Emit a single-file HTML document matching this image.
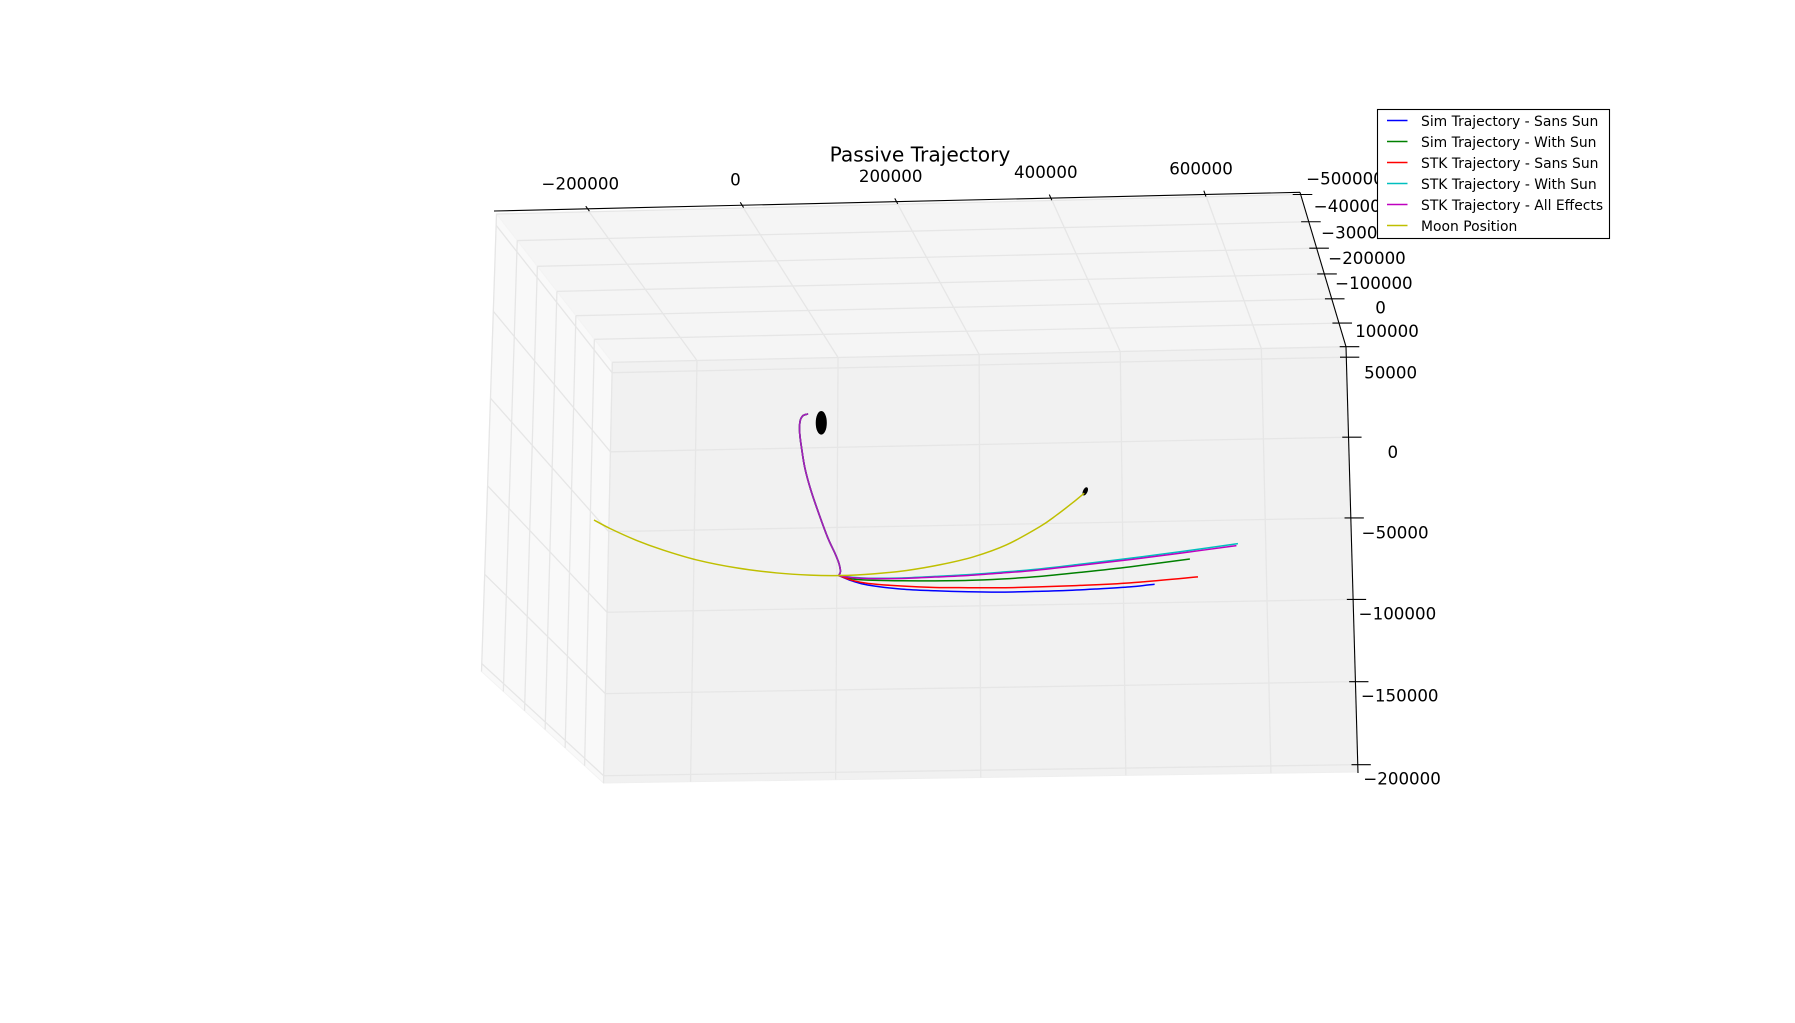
<!DOCTYPE html>
<html lang="en">
<head>
<meta charset="utf-8">
<title>Passive Trajectory</title>
<style>
html,body{margin:0;padding:0;background:#fff;width:1795px;height:1023px;overflow:hidden}
svg{display:block}
text{font-family:"DejaVu Sans","Liberation Sans",sans-serif;fill:#000}
.tick-label{font-size:16.67px;text-anchor:middle;dominant-baseline:central}
.legend-text{font-size:13.9px;dominant-baseline:central;fill:#000}
</style>
</head>
<body>
<svg id="chart" xmlns="http://www.w3.org/2000/svg" width="1795" height="1023" viewBox="0 0 1795 1023">
  <rect x="0" y="0" width="1795" height="1023" fill="#ffffff"/>
  <g id="panes"></g>
  <g id="grid"></g>
  <g id="axes"></g>
  <g id="labels"></g>
  <g id="marks"></g>
  <text x="920" y="154.5" font-size="20.2" text-anchor="middle" dominant-baseline="central">Passive Trajectory</text>
  <g>
    <rect x="1377.5" y="109.5" width="232" height="129" fill="#ffffff" stroke="#000000" stroke-width="1.1"/>
    <g>
      <line x1="1387" x2="1407.5" y1="120.5" y2="120.5" stroke="#0000ff" stroke-width="1.4"/>
      <text class="legend-text" x="1421" y="121.8">Sim Trajectory - Sans Sun</text>
    </g>
    <g>
      <line x1="1387" x2="1407.5" y1="141.5" y2="141.5" stroke="#008000" stroke-width="1.4"/>
      <text class="legend-text" x="1421" y="142.8">Sim Trajectory - With Sun</text>
    </g>
    <g>
      <line x1="1387" x2="1407.5" y1="162.5" y2="162.5" stroke="#ff0000" stroke-width="1.4"/>
      <text class="legend-text" x="1421" y="163.8">STK Trajectory - Sans Sun</text>
    </g>
    <g>
      <line x1="1387" x2="1407.5" y1="183.5" y2="183.5" stroke="#00bfbf" stroke-width="1.4"/>
      <text class="legend-text" x="1421" y="184.8">STK Trajectory - With Sun</text>
    </g>
    <g>
      <line x1="1387" x2="1407.5" y1="204.5" y2="204.5" stroke="#bf00bf" stroke-width="1.4"/>
      <text class="legend-text" x="1421" y="205.8">STK Trajectory - All Effects</text>
    </g>
    <g>
      <line x1="1387" x2="1407.5" y1="225.5" y2="225.5" stroke="#bfbf00" stroke-width="1.4"/>
      <text class="legend-text" x="1421" y="226.8">Moon Position</text>
    </g>
  </g>
</svg>
<script>
// Tick values
const xTicks = [-200000, 0, 200000, 400000, 600000];
const yTicks = [-500000, -400000, -300000, -200000, -100000, 0, 100000];
const zTicks = [50000, 0, -50000, -100000, -150000, -200000];

// Axis limits
const xLim = [-320000, 720000];
const yLim = [-500000, 100000];
const zLim = [-204400, 56600];

// Depth of the trajectories along the view axis (not readable from the picture)
const planeY = 0;

// Shared outbound leg (all five trajectories overlap here)
const outboundX = [-21400, -27900, -31600, -31800, -29000, -24100, -15800, -4600, 8400, 18200, 23800, 25900, 23600];
const outboundZ = [7200, 6100, 2600, -4600, -13900, -26300, -39600, -54000, -69300, -78600, -84800, -89900, -92250];

// Diverging branches
const simSansX = [41600, 64400, 110300, 156100, 201900, 247800, 293500, 332100, 378000, 423700, 457800];
const simSansZ = [-95600, -98400, -101150, -102500, -103450, -104000, -103950, -103800, -103100, -102200, -100900];
const simWithX = [41600, 64400, 110300, 156100, 201900, 247800, 293500, 355400, 424200, 506800];
const simWithZ = [-94400, -95350, -96100, -96500, -96600, -96100, -95100, -92900, -90100, -86000];
const stkSansX = [41600, 64400, 110300, 156100, 201900, 247800, 293500, 355400, 424200, 517500];
const stkSansZ = [-95200, -97400, -99300, -100500, -101000, -101400, -101300, -100800, -99800, -96900];
const stkWithX = [41600, 64400, 110300, 156100, 201900, 247800, 293500, 355400, 424200, 493200, 573300];
const stkWithZ = [-93400, -94200, -94400, -93800, -93100, -91950, -90600, -88000, -84900, -81500, -77240];
const stkAllX = [41600, 64400, 110300, 156100, 201900, 247800, 293500, 355400, 424200, 493200, 571200];
const stkAllZ = [-93600, -94400, -94700, -94200, -93600, -92500, -91200, -88700, -85700, -82400, -78400];

// Moon path
const moonX = [-314800, -292400, -255400, -218500, -172100, -116900, -61700, -15900, 25400, 71200, 117100, 162900, 208600, 254600, 300400, 323400, 346200, 362300];
const moonZ = [-55600, -61000, -68600, -74800, -81200, -86500, -90000, -91700, -92250, -91600, -89900, -86800, -82400, -75400, -64800, -58000, -50500, -44800];

// Bodies: Earth, Moon
const bodyX = [-2000, 363700];
const bodyY = [0, 0];
const bodyZ = [1600, -43700];
const bodyRadius = [7000, 2400];
const bodyTilt = [0, 25];

// Screen corners of the 3D box (camera calibration), [x, y]
const boxBackTopLeft = [612.3, 362.3];
const boxBackTopRight = [1346, 346.7];
const boxBackBottomLeft = [603.5, 783];
const boxBackBottomRight = [1358, 772];
const boxFrontTopLeft = [496.5, 214];
const boxFrontTopRight = [1299, 194.5];
const boxFrontBottomLeft = [481.5, 671.5];
const boxFrontBottomRight = [1306.5, 659.5];

const SVGNS = 'http://www.w3.org/2000/svg';

function lerp(a, b, t) { return a + (b - a) * t; }

function proj(x, y, z) {
  const u = (x - xLim[0]) / (xLim[1] - xLim[0]);
  const s = (yLim[1] - y) / (yLim[1] - yLim[0]);
  const v = 0.917 * s / (1 - 0.083 * s);
  const t = (zLim[1] - z) / (zLim[1] - zLim[0]);
  const w = 0.976 * t / (1 - 0.024 * t);
  const out = [0, 1].map(function (i) {
    const backTop = lerp(boxBackTopLeft[i], boxBackTopRight[i], u);
    const backBottom = lerp(boxBackBottomLeft[i], boxBackBottomRight[i], u);
    const frontTop = lerp(boxFrontTopLeft[i], boxFrontTopRight[i], u);
    const frontBottom = lerp(boxFrontBottomLeft[i], boxFrontBottomRight[i], u);
    return lerp(lerp(backTop, backBottom, w), lerp(frontTop, frontBottom, w), v);
  });
  return out;
}

function make(parentId, tag, attrs) {
  const el = document.createElementNS(SVGNS, tag);
  Object.keys(attrs).forEach(function (k) { el.setAttribute(k, attrs[k]); });
  document.getElementById(parentId).appendChild(el);
  return el;
}

function fmt(p) { return p[0].toFixed(2) + ',' + p[1].toFixed(2); }

function smoothPath(pts) {
  let d = 'M' + fmt(pts[0]);
  for (let i = 0; i < pts.length - 1; i++) {
    const p0 = pts[Math.max(i - 1, 0)];
    const p1 = pts[i];
    const p2 = pts[i + 1];
    const p3 = pts[Math.min(i + 2, pts.length - 1)];
    const c1 = [p1[0] + (p2[0] - p0[0]) / 6, p1[1] + (p2[1] - p0[1]) / 6];
    const c2 = [p2[0] - (p3[0] - p1[0]) / 6, p2[1] - (p3[1] - p1[1]) / 6];
    d += 'C' + fmt(c1) + ' ' + fmt(c2) + ' ' + fmt(p2);
  }
  return d;
}

function polyOf(corners) { return corners.map(fmt).join(' '); }

function gridLine(a, b) {
  const el = make('grid', 'line', { x1: a[0], y1: a[1], x2: b[0], y2: b[1], stroke: '#e6e6e6', 'stroke-width': 1.3 });
  return el;
}

function tickLabelText(v) { return String(v).replace('-', '\u2212'); }

// Panes
const paneCeiling = make('panes', 'polygon', { points: polyOf([boxFrontTopLeft, boxFrontTopRight, boxBackTopRight, boxBackTopLeft]), fill: '#f5f5f5', stroke: '#f1f1f1', 'stroke-width': 1 });


const paneLeft = make('panes', 'polygon', { points: polyOf([boxFrontTopLeft, boxBackTopLeft, boxBackBottomLeft, boxFrontBottomLeft]), fill: '#f9f9f9', stroke: '#f3f3f3', 'stroke-width': 1 });


const paneBack = make('panes', 'polygon', { points: polyOf([boxBackTopLeft, boxBackTopRight, boxBackBottomRight, boxBackBottomLeft]), fill: '#f1f1f1', stroke: '#efefef', 'stroke-width': 1 });



// Grid
xTicks.forEach(function (x) {
  const g1 = gridLine(proj(x, yLim[0], zLim[1]), proj(x, yLim[1], zLim[1]));
  
  
  const g2 = gridLine(proj(x, yLim[1], zLim[1]), proj(x, yLim[1], zLim[0]));
  
  
});
yTicks.forEach(function (y) {
  const g1 = gridLine(proj(xLim[0], y, zLim[1]), proj(xLim[1], y, zLim[1]));
  
  
  const g2 = gridLine(proj(xLim[0], y, zLim[1]), proj(xLim[0], y, zLim[0]));
  
  
});
zTicks.forEach(function (z) {
  const g1 = gridLine(proj(xLim[0], yLim[0], z), proj(xLim[0], yLim[1], z));
  
  
  const g2 = gridLine(proj(xLim[0], yLim[1], z), proj(xLim[1], yLim[1], z));
  
  
});

// Axis lines
const xAxisLine = make('axes', 'line', { x1: boxFrontTopLeft[0] - 2.5, y1: boxFrontTopLeft[1] - 3, x2: boxFrontTopRight[0] + 1, y2: boxFrontTopRight[1] - 2.2, stroke: '#000', 'stroke-width': 1.1 });


const yAxisLine = make('axes', 'line', { x1: boxFrontTopRight[0] + 1, y1: boxFrontTopRight[1] - 2.2, x2: boxBackTopRight[0], y2: boxBackTopRight[1], stroke: '#000', 'stroke-width': 1.1 });


const zAxisLine = make('axes', 'line', { x1: boxBackTopRight[0], y1: boxBackTopRight[1], x2: boxBackBottomRight[0], y2: boxBackBottomRight[1] + 1, stroke: '#000', 'stroke-width': 1.1 });



// Ticks and labels
xTicks.forEach(function (x) {
  const p = proj(x, yLim[0], zLim[1]);
  const q = proj(x, yLim[1], zLim[1]);
  const len = Math.hypot(q[0] - p[0], q[1] - p[1]);
  const dx = (q[0] - p[0]) / len * 3.1;
  const dy = (q[1] - p[1]) / len * 3.1;
  const cx = p[0] - 1.5;
  const cy = p[1] - 3.1;
  const tick = make('axes', 'line', { x1: cx - dx, y1: cy - dy, x2: cx + dx, y2: cy + dy, stroke: '#000', 'stroke-width': 1.1 });
  
  
  const label = make('labels', 'text', { class: 'tick-label', x: cx - 6.45 + x * 4.25e-6, y: cy - 24.9 });
  label.textContent = tickLabelText(x);
  
  
});
yTicks.forEach(function (y) {
  const p = proj(xLim[1], y, zLim[1]);
  const frontFraction = (yLim[1] - y) / (yLim[1] - yLim[0]);
  const tick = make('axes', 'line', { x1: p[0] - 6.3, y1: p[1], x2: p[0] + 13.3, y2: p[1], stroke: '#000', 'stroke-width': 1.1 });
  
  
  const label = make('labels', 'text', { class: 'tick-label', x: p[0] + 41 + 5 * frontFraction, y: p[1] - 15.3 });
  label.textContent = tickLabelText(y);
  
  
});
zTicks.forEach(function (z) {
  const p = proj(xLim[1], yLim[1], z);
  const downFraction = (zTicks[0] - z) / (zTicks[0] - zTicks[zTicks.length - 1]);
  const tick = make('axes', 'line', { x1: p[0] - 6.3, y1: p[1], x2: p[0] + 13, y2: p[1], stroke: '#000', 'stroke-width': 1.1 });
  
  
  const label = make('labels', 'text', { class: 'tick-label', x: p[0] + 44.3, y: p[1] + 15.8 - 1.6 * downFraction });
  label.textContent = tickLabelText(z);
  
  
});

function outboundPoints() {
  return outboundX.map(function (x, i) { return proj(x, planeY, outboundZ[i]); });
}

function branchPoints(xs, zs) {
  const start = outboundX.length - 1;
  const pts = [proj(outboundX[start], planeY, outboundZ[start])];
  xs.forEach(function (x, i) { pts.push(proj(x, planeY, zs[i])); });
  return pts;
}

function drawSeries(xs, zs, color) {
  const leg = make('marks', 'path', { d: smoothPath(outboundPoints()), fill: 'none', stroke: color, 'stroke-width': 1.6, 'stroke-opacity': 0.8, 'stroke-linejoin': 'round', 'stroke-linecap': 'round' });
  
  
  const branch = make('marks', 'path', { d: smoothPath(branchPoints(xs, zs)), fill: 'none', stroke: color, 'stroke-width': 1.5, 'stroke-linejoin': 'round' });
  
  
}

drawSeries(simSansX, simSansZ, '#0000ff');
drawSeries(simWithX, simWithZ, '#008000');
drawSeries(stkSansX, stkSansZ, '#ff0000');
drawSeries(stkWithX, stkWithZ, '#00bfbf');
drawSeries(stkAllX, stkAllZ, '#bf00bf');

// Bodies
bodyX.forEach(function (x, i) {
  const c = proj(x, bodyY[i], bodyZ[i]);
  const ex = proj(x + bodyRadius[i], bodyY[i], bodyZ[i]);
  const ez = proj(x, bodyY[i], bodyZ[i] + bodyRadius[i]);
  const body = make('marks', 'ellipse', { cx: c[0], cy: c[1], rx: Math.abs(ex[0] - c[0]), ry: Math.abs(ez[1] - c[1]), fill: '#000', stroke: '#000', 'stroke-width': 1, transform: 'rotate(' + bodyTilt[i] + ' ' + c[0] + ' ' + c[1] + ')' });
  
  
});

// Moon path
const moonPoints = moonX.map(function (x, i) { return proj(x, planeY, moonZ[i]); });
const moonPath = make('marks', 'path', { d: smoothPath(moonPoints), fill: 'none', stroke: '#bfbf00', 'stroke-width': 1.5, 'stroke-linejoin': 'round' });


</script>
</body>
</html>
